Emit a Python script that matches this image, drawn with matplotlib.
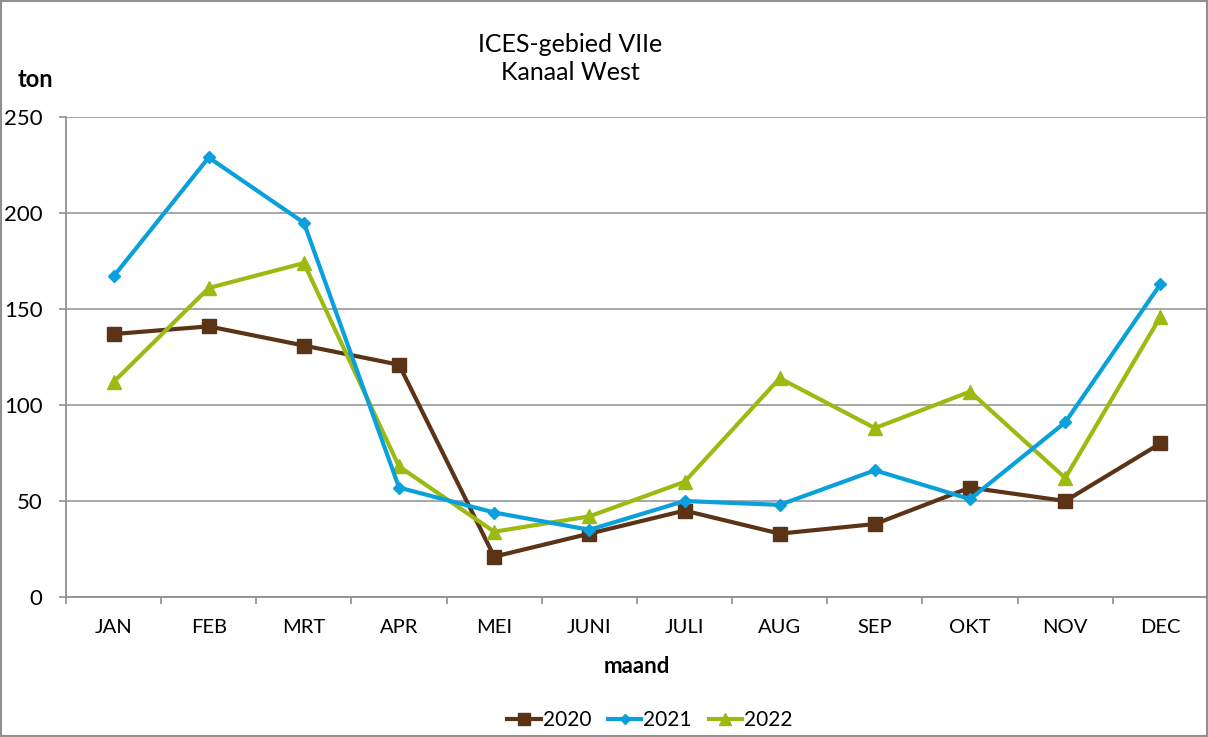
import numpy as np
import matplotlib.pyplot as plt
from matplotlib.patches import Rectangle

plt.rcParams['font.family'] = ['Lato', 'DejaVu Sans']

# maandelijkse aanvoer (ton)
maanden = ['JAN', 'FEB', 'MRT', 'APR', 'MEI', 'JUNI', 'JULI', 'AUG', 'SEP', 'OKT', 'NOV', 'DEC']
ton_2020 = [137, 141, 131, 121, 21, 33, 45, 33, 38, 57, 50, 80]
ton_2021 = [167, 229, 195, 57, 44, 35, 50, 48, 66, 51, 91, 163]
ton_2022 = [112, 161, 174, 68, 34, 42, 60, 114, 88, 107, 62, 146]

fig = plt.figure(figsize=(12.08, 7.37), dpi=100)
ax = fig.add_axes([0.0546, 0.19, 0.9454, 0.651])

x = np.arange(len(maanden))
ax.plot(x, ton_2020, color='#5b3317', lw=3, marker='s', ms=10, label='2020', zorder=3)
ax.plot(x, ton_2021, color='#0aa0dc', lw=3, marker='D', ms=6, label='2021', zorder=4)
ax.plot(x, ton_2022, color='#9bbb13', lw=3, marker='^', ms=10, label='2022', zorder=3)

ax.set_xlim(-0.5, len(maanden) - 0.5)
ax.set_ylim(0, 250)
ax.set_yticks(range(0, 251, 50))
ax.yaxis.grid(True, color='#a0a0a0', lw=1.3)
ax.set_axisbelow(True)

# maandnamen midden in de categorie, streepjes op de grenzen
ax.set_xticks(np.arange(-0.5, len(maanden)), minor=False)
ax.set_xticklabels([])
ax.set_xticks(x, minor=True)
ax.set_xticklabels(maanden, minor=True)
ax.tick_params(axis='x', which='minor', length=0, pad=16, labelsize=14.5)
ax.tick_params(axis='x', which='major', length=5, color='#909090', width=1.2)
ax.tick_params(axis='y', length=5, color='#909090', width=1.2, labelsize=16, pad=12)

for s in ['top', 'right']:
    ax.spines[s].set_visible(False)
for s in ['left', 'bottom']:
    ax.spines[s].set_color('#909090')
    ax.spines[s].set_linewidth(1.3)

ax.set_xlabel('maand', fontsize=16, fontweight='bold', labelpad=14)
fig.text(0.0149, 0.892, 'ton', fontsize=17, fontweight='bold', ha='left', va='center')
fig.text(0.472, 0.921, 'ICES-gebied VIIe\nKanaal West', fontsize=18, ha='center', va='center',
         linespacing=1.25)

ax.legend(loc='center', bbox_to_anchor=(0.538, 0.023), bbox_transform=fig.transFigure,
          ncol=3, frameon=False, fontsize=15, handlelength=1.6, handletextpad=0.1,
          columnspacing=0.8, markerscale=0.85)

fig.patches.append(Rectangle((0.001, 0.001), 0.998, 0.997, transform=fig.transFigure,
                             fill=False, edgecolor='#909090', lw=1.5))

fig.savefig('out.png', dpi=100)
